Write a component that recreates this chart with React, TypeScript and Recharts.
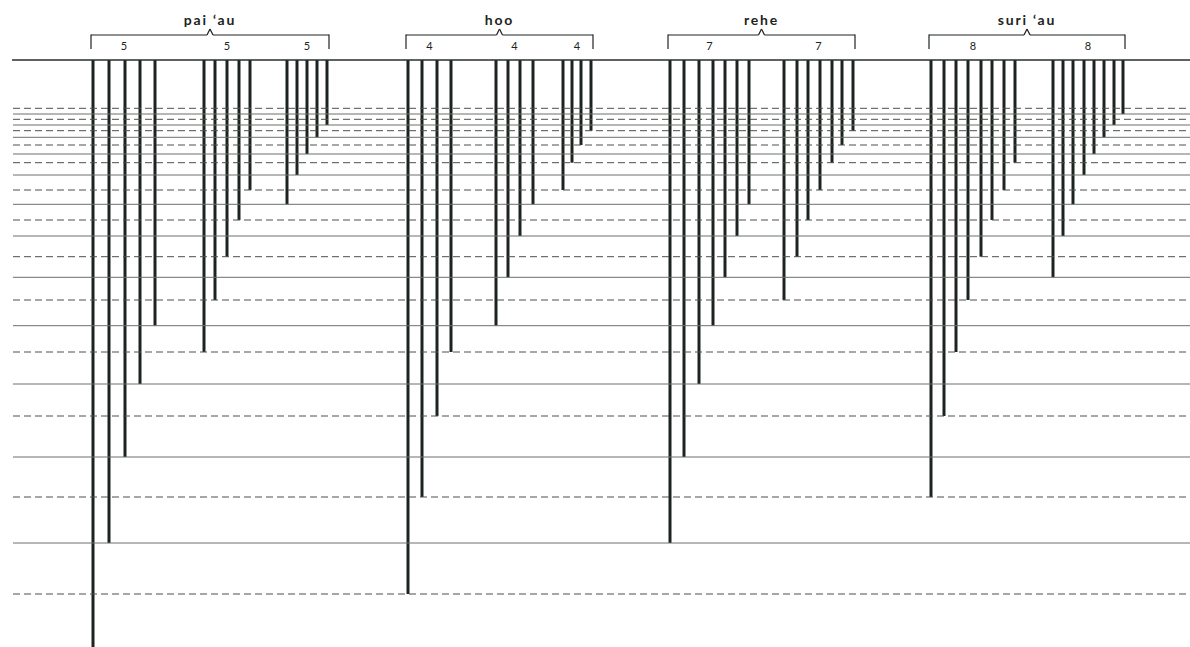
import React from 'react';
import { BarChart, Bar, XAxis, YAxis, ReferenceLine, ReferenceDot } from 'recharts';

// Depth (distance below the top line) of each horizontal reference level, top to bottom
const levelDepths = [48.3, 54, 59.3, 65, 70.7, 77.3, 85, 94, 102.7, 115, 130, 144.3, 160, 176, 196.7, 217.3, 240, 265.7, 292, 324, 356, 397, 437, 483, 534];
// Level kind: 'd' = dashed, 's' = solid
const levelKinds = ['d', 's', 'd', 's', 'd', 's', 'd', 's', 'd', 's', 'd', 's', 'd', 's', 'd', 's', 'd', 's', 'd', 's', 'd', 's', 'd', 's', 'd'];

const instrumentNames = ['pai \u2018au', 'hoo', 'rehe', 'suri \u2018au'];

// Bar slots (horizontal position on the x scale) per instrument, per sub-group
const paiauSlots = [[93, 109, 125, 140, 155], [204, 215, 227, 239, 250], [287, 297, 307, 317, 327]];
const paiauDepths = [[590, 483, 397, 324, 265.7], [292, 240, 196.7, 160, 130], [144.3, 115, 94, 77.3, 65]];

const hooSlots = [[408, 422, 437, 451], [496, 508, 520, 533], [563, 572, 581, 591]];
const hooDepths = [[534, 437, 356, 292], [265.7, 217.3, 176, 144.3], [130, 102.7, 85, 70.7]];

const reheSlots = [[670, 684, 699, 713, 725, 737, 749], [784, 797, 808, 820, 832, 842, 853]];
const reheDepths = [[483, 397, 324, 265.7, 217.3, 176, 144.3], [240, 196.7, 160, 130, 102.7, 85, 70.7]];

const suriauSlots = [[931, 944, 956, 968, 981, 992, 1004, 1015], [1053, 1063, 1073, 1084, 1094, 1104, 1114, 1123]];
const suriauDepths = [[437, 356, 292, 240, 196.7, 160, 130, 102.7], [217.3, 176, 144.3, 115, 94, 77.3, 65, 54]];

const instrumentSlots = [paiauSlots, hooSlots, reheSlots, suriauSlots];
const instrumentDepths = [paiauDepths, hooDepths, reheDepths, suriauDepths];

const data: { x: number; depth: number }[] = [];
instrumentSlots.forEach((groups, i) => {
  groups.forEach((g, j) => {
    g.forEach((x, k) => {
      data.push({ x, depth: instrumentDepths[i][j][k] });
    });
  });
});

const FONT = 'Lato, "Open Sans", sans-serif';
const INK = '#1d2420';

export default function App() {
  const brackets = instrumentSlots.map((groups, i) => {
    const all = groups.flat();
    const x1 = Math.min(...all) - 2;
    const x2 = Math.max(...all) + 2;
    const mid = (x1 + x2) / 2;
    return { i, x1, x2, mid, groups };
  });

  return (
    <div style={{ position: 'absolute', left: 0, top: 0, width: 1190, height: 647, background: '#fff' }}>
      <BarChart width={1190} height={647} data={data} margin={{ top: 0, right: 0, bottom: 0, left: 0 }}>
        <XAxis hide type="number" dataKey="x" domain={[0, 1190]} allowDataOverflow />
        <YAxis hide type="number" reversed domain={[-60, 587]} allowDataOverflow />
        {levelDepths.map((d, i) => (
          <ReferenceLine
            key={'lv' + i}
            segment={[{ x: 13, y: d }, { x: 1190, y: d }]}
            stroke={levelKinds[i] === 'd' ? '#4b514b' : '#6b706a'}
            strokeWidth={1}
            strokeDasharray={levelKinds[i] === 'd' ? '7 4' : undefined}
            ifOverflow="visible"
          />
        ))}
        <ReferenceLine segment={[{ x: 12, y: 0 }, { x: 1190, y: 0 }]} stroke="#2a2f2b" strokeWidth={1.3} ifOverflow="visible" />
        <Bar dataKey="depth" fill={INK} barSize={3} isAnimationActive={false} />
        {brackets.map((b) => (
          <React.Fragment key={'br' + b.i}>
            <ReferenceLine segment={[{ x: b.x1, y: -25 }, { x: b.mid - 3, y: -25 }]} stroke={INK} strokeWidth={1.2} ifOverflow="visible" />
            <ReferenceLine segment={[{ x: b.mid + 3, y: -25 }, { x: b.x2, y: -25 }]} stroke={INK} strokeWidth={1.2} ifOverflow="visible" />
            <ReferenceLine segment={[{ x: b.mid - 3, y: -25 }, { x: b.mid, y: -31 }]} stroke={INK} strokeWidth={1.2} ifOverflow="visible" />
            <ReferenceLine segment={[{ x: b.mid, y: -31 }, { x: b.mid + 3, y: -25 }]} stroke={INK} strokeWidth={1.2} ifOverflow="visible" />
            <ReferenceLine segment={[{ x: b.x1, y: -25.6 }, { x: b.x1, y: -11 }]} stroke={INK} strokeWidth={1.2} ifOverflow="visible" />
            <ReferenceLine segment={[{ x: b.x2, y: -25.6 }, { x: b.x2, y: -11 }]} stroke={INK} strokeWidth={1.2} ifOverflow="visible" />
            <ReferenceDot
              x={b.mid}
              y={-40}
              r={0}
              fill="none"
              stroke="none"
              ifOverflow="visible"
              label={{ value: instrumentNames[b.i], position: 'center', fill: INK, fontSize: 14, fontWeight: 700, fontFamily: FONT, letterSpacing: 1.8 }}
            />
            {b.groups.map((g, j) => (
              <ReferenceDot
                key={'cnt' + j}
                x={(g[0] + g[g.length - 1]) / 2}
                y={-13.5}
                r={0}
                fill="none"
                stroke="none"
                ifOverflow="visible"
                label={{ value: String(g.length), position: 'center', fill: INK, fontSize: 11, fontFamily: FONT }}
              />
            ))}
          </React.Fragment>
        ))}
      </BarChart>
    </div>
  );
}
